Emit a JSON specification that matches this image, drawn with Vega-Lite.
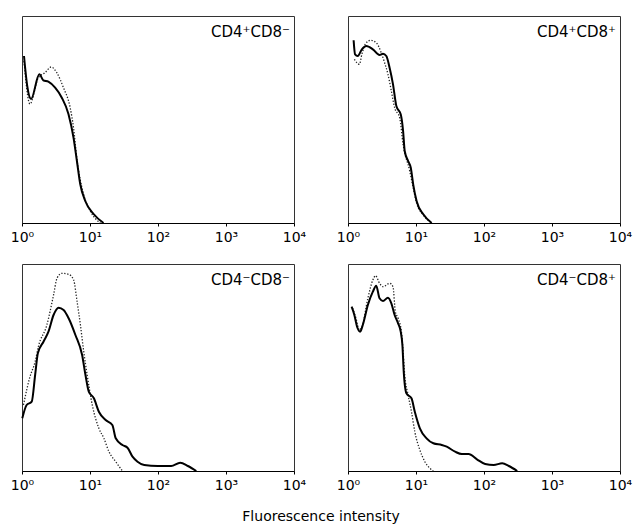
{
  "$schema": "https://vega.github.io/schema/vega-lite/v6.json",
  "padding": {"left": 9, "top": 15, "right": 5, "bottom": 5},
  "background": "white",
  "title": {"text": "Fluorescence intensity", "orient": "bottom", "anchor": "middle", "font": "DejaVu Sans", "fontSize": 14, "fontWeight": "normal", "color": "black", "offset": 17},
  "data": {"values": [
    {"r":"1","c":"1","s":"label","label":"CD4⁺CD8⁻"},
    {"r":"1","c":"2","s":"label","label":"CD4⁺CD8⁺"},
    {"r":"2","c":"1","s":"label","label":"CD4⁻CD8⁻"},
    {"r":"2","c":"2","s":"label","label":"CD4⁻CD8⁺"},

    {"r":"1","c":"1","s":"solid","x":1.07,"y":167},
    {"r":"1","c":"1","s":"solid","x":1.2,"y":136},
    {"r":"1","c":"1","s":"solid","x":1.36,"y":124},
    {"r":"1","c":"1","s":"solid","x":1.8,"y":148.7},
    {"r":"1","c":"1","s":"solid","x":2.06,"y":142.7},
    {"r":"1","c":"1","s":"solid","x":2.44,"y":141.3},
    {"r":"1","c":"1","s":"solid","x":3.07,"y":135.3},
    {"r":"1","c":"1","s":"solid","x":3.85,"y":125.3},
    {"r":"1","c":"1","s":"solid","x":4.82,"y":109},
    {"r":"1","c":"1","s":"solid","x":5.72,"y":85.3},
    {"r":"1","c":"1","s":"solid","x":6.42,"y":62},
    {"r":"1","c":"1","s":"solid","x":7.18,"y":39},
    {"r":"1","c":"1","s":"solid","x":8.51,"y":22},
    {"r":"1","c":"1","s":"solid","x":11.3,"y":9},
    {"r":"1","c":"1","s":"solid","x":15.8,"y":0},

    {"r":"1","c":"1","s":"dotted","x":1.07,"y":162},
    {"r":"1","c":"1","s":"dotted","x":1.31,"y":119},
    {"r":"1","c":"1","s":"dotted","x":1.74,"y":145.3},
    {"r":"1","c":"1","s":"dotted","x":2.18,"y":150.3},
    {"r":"1","c":"1","s":"dotted","x":2.68,"y":156},
    {"r":"1","c":"1","s":"dotted","x":3.25,"y":150.3},
    {"r":"1","c":"1","s":"dotted","x":4.07,"y":135.3},
    {"r":"1","c":"1","s":"dotted","x":5.11,"y":115.3},
    {"r":"1","c":"1","s":"dotted","x":5.72,"y":95.3},
    {"r":"1","c":"1","s":"dotted","x":6.42,"y":64},
    {"r":"1","c":"1","s":"dotted","x":8.03,"y":29},
    {"r":"1","c":"1","s":"dotted","x":10.1,"y":12},
    {"r":"1","c":"1","s":"dotted","x":14.2,"y":0},

    {"r":"1","c":"2","s":"solid","x":1.21,"y":182.7},
    {"r":"1","c":"2","s":"solid","x":1.27,"y":168.7},
    {"r":"1","c":"2","s":"solid","x":1.39,"y":167},
    {"r":"1","c":"2","s":"solid","x":1.6,"y":173.7},
    {"r":"1","c":"2","s":"solid","x":1.85,"y":177},
    {"r":"1","c":"2","s":"solid","x":2.32,"y":173.7},
    {"r":"1","c":"2","s":"solid","x":2.91,"y":168},
    {"r":"1","c":"2","s":"solid","x":3.27,"y":169.3},
    {"r":"1","c":"2","s":"solid","x":3.66,"y":167},
    {"r":"1","c":"2","s":"solid","x":4.09,"y":155.3},
    {"r":"1","c":"2","s":"solid","x":4.59,"y":138.7},
    {"r":"1","c":"2","s":"solid","x":5.14,"y":117},
    {"r":"1","c":"2","s":"solid","x":5.96,"y":108.7},
    {"r":"1","c":"2","s":"solid","x":6.46,"y":92},
    {"r":"1","c":"2","s":"solid","x":6.82,"y":72},
    {"r":"1","c":"2","s":"solid","x":7.66,"y":62},
    {"r":"1","c":"2","s":"solid","x":8.38,"y":55.3},
    {"r":"1","c":"2","s":"solid","x":9.09,"y":38.7},
    {"r":"1","c":"2","s":"solid","x":10.2,"y":22},
    {"r":"1","c":"2","s":"solid","x":12.8,"y":8.7},
    {"r":"1","c":"2","s":"solid","x":17,"y":0},

    {"r":"1","c":"2","s":"dotted","x":1.24,"y":163.7},
    {"r":"1","c":"2","s":"dotted","x":1.47,"y":158.7},
    {"r":"1","c":"2","s":"dotted","x":1.6,"y":168.7},
    {"r":"1","c":"2","s":"dotted","x":1.79,"y":178.7},
    {"r":"1","c":"2","s":"dotted","x":2.14,"y":182.7},
    {"r":"1","c":"2","s":"dotted","x":2.6,"y":180.3},
    {"r":"1","c":"2","s":"dotted","x":3.08,"y":170.3},
    {"r":"1","c":"2","s":"dotted","x":3.45,"y":160.3},
    {"r":"1","c":"2","s":"dotted","x":3.87,"y":148.7},
    {"r":"1","c":"2","s":"dotted","x":4.34,"y":132},
    {"r":"1","c":"2","s":"dotted","x":4.85,"y":115.3},
    {"r":"1","c":"2","s":"dotted","x":5.75,"y":105.3},
    {"r":"1","c":"2","s":"dotted","x":6.46,"y":78.7},
    {"r":"1","c":"2","s":"dotted","x":8.09,"y":52},
    {"r":"1","c":"2","s":"dotted","x":9.09,"y":35.3},
    {"r":"1","c":"2","s":"dotted","x":10.2,"y":20},
    {"r":"1","c":"2","s":"dotted","x":12.8,"y":8},
    {"r":"1","c":"2","s":"dotted","x":17,"y":0},

    {"r":"2","c":"1","s":"solid","x":1.01,"y":52.7},
    {"r":"2","c":"1","s":"solid","x":1.17,"y":66},
    {"r":"2","c":"1","s":"solid","x":1.39,"y":69.3},
    {"r":"2","c":"1","s":"solid","x":1.56,"y":96},
    {"r":"2","c":"1","s":"solid","x":1.71,"y":117.7},
    {"r":"2","c":"1","s":"solid","x":2.07,"y":129.3},
    {"r":"2","c":"1","s":"solid","x":2.45,"y":139.3},
    {"r":"2","c":"1","s":"solid","x":2.91,"y":156},
    {"r":"2","c":"1","s":"solid","x":3.45,"y":163.3},
    {"r":"2","c":"1","s":"solid","x":4.09,"y":161},
    {"r":"2","c":"1","s":"solid","x":4.85,"y":152.7},
    {"r":"2","c":"1","s":"solid","x":6.1,"y":136},
    {"r":"2","c":"1","s":"solid","x":7.66,"y":116},
    {"r":"2","c":"1","s":"solid","x":8.58,"y":96},
    {"r":"2","c":"1","s":"solid","x":9.6,"y":79.3},
    {"r":"2","c":"1","s":"solid","x":11.4,"y":72.7},
    {"r":"2","c":"1","s":"solid","x":13.5,"y":59.3},
    {"r":"2","c":"1","s":"solid","x":17,"y":51},
    {"r":"2","c":"1","s":"solid","x":21.3,"y":46},
    {"r":"2","c":"1","s":"solid","x":23.9,"y":32.7},
    {"r":"2","c":"1","s":"solid","x":30,"y":26},
    {"r":"2","c":"1","s":"solid","x":35.6,"y":23.3},
    {"r":"2","c":"1","s":"solid","x":42.2,"y":14.3},
    {"r":"2","c":"1","s":"solid","x":50,"y":9.3},
    {"r":"2","c":"1","s":"solid","x":62.7,"y":6},
    {"r":"2","c":"1","s":"solid","x":99,"y":5},
    {"r":"2","c":"1","s":"solid","x":156,"y":5},
    {"r":"2","c":"1","s":"solid","x":212,"y":8.3},
    {"r":"2","c":"1","s":"solid","x":275,"y":5},
    {"r":"2","c":"1","s":"solid","x":366,"y":0},

    {"r":"2","c":"1","s":"dotted","x":1.05,"y":66},
    {"r":"2","c":"1","s":"dotted","x":1.31,"y":94.3},
    {"r":"2","c":"1","s":"dotted","x":1.56,"y":109.3},
    {"r":"2","c":"1","s":"dotted","x":1.74,"y":124.3},
    {"r":"2","c":"1","s":"dotted","x":2.32,"y":146},
    {"r":"2","c":"1","s":"dotted","x":2.91,"y":176},
    {"r":"2","c":"1","s":"dotted","x":3.27,"y":192.7},
    {"r":"2","c":"1","s":"dotted","x":3.87,"y":197.7},
    {"r":"2","c":"1","s":"dotted","x":4.85,"y":196.7},
    {"r":"2","c":"1","s":"dotted","x":5.75,"y":191},
    {"r":"2","c":"1","s":"dotted","x":6.46,"y":169.3},
    {"r":"2","c":"1","s":"dotted","x":7.23,"y":146},
    {"r":"2","c":"1","s":"dotted","x":8.09,"y":119.3},
    {"r":"2","c":"1","s":"dotted","x":9.09,"y":96},
    {"r":"2","c":"1","s":"dotted","x":10.8,"y":66},
    {"r":"2","c":"1","s":"dotted","x":13.5,"y":42.7},
    {"r":"2","c":"1","s":"dotted","x":16,"y":32.7},
    {"r":"2","c":"1","s":"dotted","x":19,"y":19.3},
    {"r":"2","c":"1","s":"dotted","x":23.9,"y":9.3},
    {"r":"2","c":"1","s":"dotted","x":30,"y":0},

    {"r":"2","c":"2","s":"solid","x":1.13,"y":164.3},
    {"r":"2","c":"2","s":"solid","x":1.24,"y":156},
    {"r":"2","c":"2","s":"solid","x":1.36,"y":144.3},
    {"r":"2","c":"2","s":"solid","x":1.51,"y":139.3},
    {"r":"2","c":"2","s":"solid","x":1.65,"y":146},
    {"r":"2","c":"2","s":"solid","x":1.96,"y":166},
    {"r":"2","c":"2","s":"solid","x":2.32,"y":179.3},
    {"r":"2","c":"2","s":"solid","x":2.6,"y":185.3},
    {"r":"2","c":"2","s":"solid","x":2.91,"y":172.7},
    {"r":"2","c":"2","s":"solid","x":3.27,"y":170},
    {"r":"2","c":"2","s":"solid","x":3.87,"y":173.3},
    {"r":"2","c":"2","s":"solid","x":4.34,"y":167.7},
    {"r":"2","c":"2","s":"solid","x":4.85,"y":156},
    {"r":"2","c":"2","s":"solid","x":5.45,"y":147.7},
    {"r":"2","c":"2","s":"solid","x":5.96,"y":139.3},
    {"r":"2","c":"2","s":"solid","x":6.31,"y":126},
    {"r":"2","c":"2","s":"solid","x":6.6,"y":99.3},
    {"r":"2","c":"2","s":"solid","x":7.23,"y":77.7},
    {"r":"2","c":"2","s":"solid","x":8.58,"y":72.7},
    {"r":"2","c":"2","s":"solid","x":9.6,"y":59.3},
    {"r":"2","c":"2","s":"solid","x":11.4,"y":42.7},
    {"r":"2","c":"2","s":"solid","x":14.3,"y":32.7},
    {"r":"2","c":"2","s":"solid","x":18,"y":27.7},
    {"r":"2","c":"2","s":"solid","x":23.9,"y":26},
    {"r":"2","c":"2","s":"solid","x":28.3,"y":24.3},
    {"r":"2","c":"2","s":"solid","x":37.6,"y":19.3},
    {"r":"2","c":"2","s":"solid","x":47.2,"y":17},
    {"r":"2","c":"2","s":"solid","x":59.3,"y":17},
    {"r":"2","c":"2","s":"solid","x":78.7,"y":11.7},
    {"r":"2","c":"2","s":"solid","x":104,"y":7},
    {"r":"2","c":"2","s":"solid","x":139,"y":6},
    {"r":"2","c":"2","s":"solid","x":185,"y":7.7},
    {"r":"2","c":"2","s":"solid","x":232,"y":5},
    {"r":"2","c":"2","s":"solid","x":308,"y":0},

    {"r":"2","c":"2","s":"dotted","x":1.17,"y":162.7},
    {"r":"2","c":"2","s":"dotted","x":1.31,"y":152.7},
    {"r":"2","c":"2","s":"dotted","x":1.47,"y":141},
    {"r":"2","c":"2","s":"dotted","x":1.62,"y":145},
    {"r":"2","c":"2","s":"dotted","x":1.96,"y":172.7},
    {"r":"2","c":"2","s":"dotted","x":2.32,"y":191},
    {"r":"2","c":"2","s":"dotted","x":2.54,"y":195.3},
    {"r":"2","c":"2","s":"dotted","x":2.91,"y":187.7},
    {"r":"2","c":"2","s":"dotted","x":3.27,"y":184.3},
    {"r":"2","c":"2","s":"dotted","x":4.09,"y":187.7},
    {"r":"2","c":"2","s":"dotted","x":4.59,"y":184.3},
    {"r":"2","c":"2","s":"dotted","x":4.97,"y":159.3},
    {"r":"2","c":"2","s":"dotted","x":5.45,"y":152.7},
    {"r":"2","c":"2","s":"dotted","x":6.1,"y":139.3},
    {"r":"2","c":"2","s":"dotted","x":6.46,"y":119.3},
    {"r":"2","c":"2","s":"dotted","x":6.82,"y":96},
    {"r":"2","c":"2","s":"dotted","x":7.66,"y":76},
    {"r":"2","c":"2","s":"dotted","x":8.58,"y":59.3},
    {"r":"2","c":"2","s":"dotted","x":9.6,"y":39.3},
    {"r":"2","c":"2","s":"dotted","x":11.4,"y":21},
    {"r":"2","c":"2","s":"dotted","x":13.5,"y":9.3},
    {"r":"2","c":"2","s":"dotted","x":16,"y":2.7},
    {"r":"2","c":"2","s":"dotted","x":18,"y":0}
  ]},
  "facet": {
    "row": {"field": "r", "type": "nominal", "header": null},
    "column": {"field": "c", "type": "nominal", "header": null}
  },
  "spacing": {"row": 41, "column": 54},
  "bounds": "flush",
  "resolve": {"axis": {"x": "independent"}},
  "spec": {
    "width": 272,
    "height": 207,
    "layer": [
      {
        "transform": [{"filter": "datum.s == 'dotted'"}],
        "mark": {"type": "line", "interpolate": "monotone", "stroke": "#222", "strokeWidth": 1.3, "strokeDash": [1.3, 1.7]},
        "encoding": {
          "x": {"field": "x", "type": "quantitative", "title": null,
                "scale": {"type": "log", "domain": [1, 10000], "nice": false},
                "axis": {"values": [1, 10, 100, 1000, 10000],
                         "labelExpr": "datum.value == 1 ? '10⁰' : datum.value == 10 ? '10¹' : datum.value == 100 ? '10²' : datum.value == 1000 ? '10³' : '10⁴'"}},
          "y": {"field": "y", "type": "quantitative", "title": null, "scale": {"domain": [0, 207], "nice": false}, "axis": null}
        }
      },
      {
        "transform": [{"filter": "datum.s == 'solid'"}],
        "mark": {"type": "line", "interpolate": "monotone", "stroke": "black", "strokeWidth": 2},
        "encoding": {
          "x": {"field": "x", "type": "quantitative", "title": null},
          "y": {"field": "y", "type": "quantitative", "title": null}
        }
      },
      {
        "transform": [{"filter": "datum.s == 'label'"}],
        "mark": {"type": "text", "align": "right", "baseline": "top", "dx": -4, "dy": 9, "font": "DejaVu Sans", "fontSize": 15, "color": "black"},
        "encoding": {
          "x": {"datum": 10000, "type": "quantitative", "title": null},
          "y": {"datum": 207, "type": "quantitative", "title": null},
          "text": {"field": "label", "type": "nominal"}
        }
      }
    ]
  },
  "config": {
    "view": {"stroke": "#333", "strokeWidth": 1},
    "axis": {"grid": false, "domainColor": "black", "domainWidth": 1.2, "tickColor": "black", "tickSize": 3,
             "labelFont": "DejaVu Sans", "labelFontSize": 14, "labelColor": "black", "labelPadding": 4, "labelFlush": false}
  }
}
